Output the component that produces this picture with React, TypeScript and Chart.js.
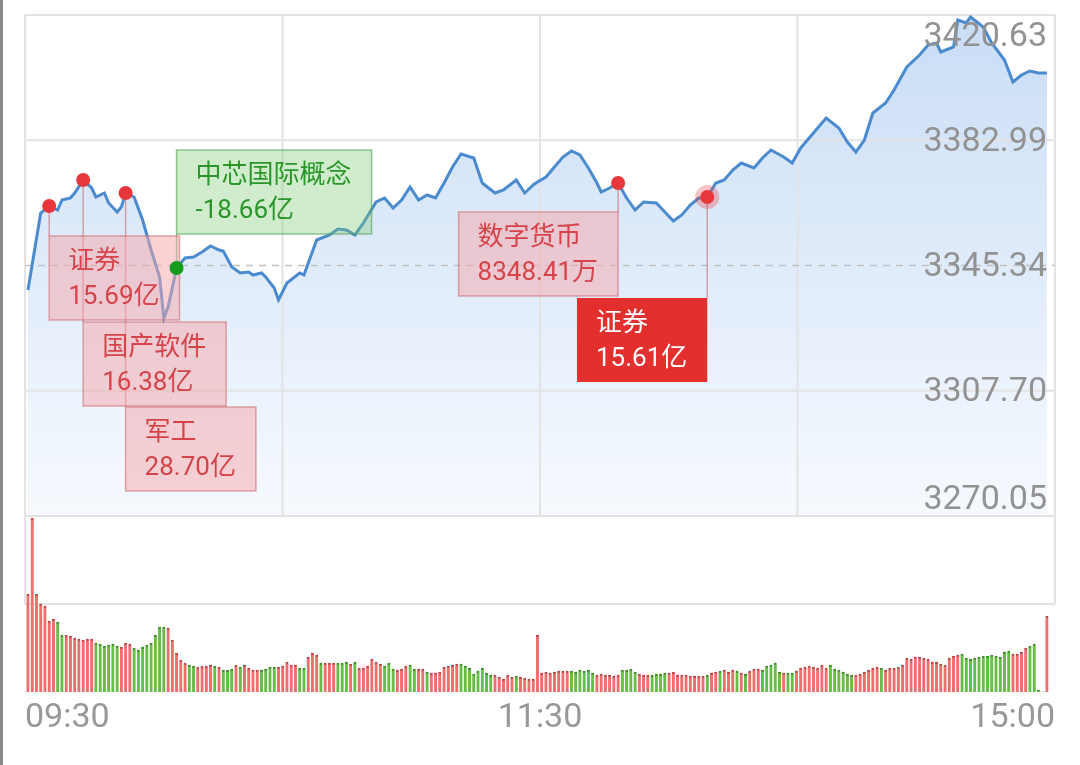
import React, { useEffect, useRef } from 'react';
import { Chart, registerables } from 'chart.js';

Chart.register(...registerables);

// ---------- data ----------
const priceMinutes = [
  0, 3, 5, 7, 8, 10, 11, 13, 15, 16, 18, 19, 21, 22, 23, 25, 27, 29, 31, 32, 33, 35, 37, 39, 41, 43, 45, 46, 48, 50,
  52, 53, 55, 56, 58, 59, 61, 64, 65, 68, 71, 73, 75, 77, 79, 82, 84, 86, 88, 90, 92, 94, 96, 98, 100, 102, 105, 107,
  110, 112, 115, 117, 119, 120, 122, 124, 126, 128, 130, 132, 134, 135, 137, 139, 141, 143, 145, 148, 150, 152, 154,
  156, 158, 160, 162, 164, 166, 168, 171, 173, 175, 178, 180, 182, 185, 188, 191, 193, 195, 197, 199, 202, 204, 207,
  210, 212, 214, 215, 218, 219, 221, 222, 225, 227, 230, 232, 234, 236, 238, 240,
];
const priceValues = [
  3337.98, 3361.12, 3363.22, 3362.02, 3365.03, 3365.63, 3367.13, 3371.04, 3368.63, 3365.93, 3367.13, 3364.12, 3361.42,
  3362.92, 3367.13, 3365.93, 3359.02, 3350.0, 3341.88, 3329.56, 3332.87, 3344.59, 3347.59, 3347.89, 3349.4, 3351.2,
  3350.0, 3349.7, 3344.89, 3343.09, 3343.39, 3342.48, 3343.09, 3341.88, 3338.58, 3334.97, 3340.08, 3343.09, 3342.48,
  3353.0, 3354.51, 3356.31, 3356.01, 3354.51, 3358.11, 3364.43, 3365.63, 3362.62, 3365.03, 3368.93, 3365.03, 3366.53,
  3365.63, 3370.14, 3374.94, 3378.85, 3377.65, 3370.14, 3367.13, 3368.03, 3371.04, 3367.13, 3369.53, 3370.44, 3371.94,
  3374.94, 3377.95, 3379.75, 3378.55, 3374.64, 3370.14, 3367.43, 3368.63, 3370.14, 3365.63, 3362.02, 3364.43, 3364.12,
  3361.42, 3358.71, 3360.52, 3363.52, 3365.63, 3365.93, 3370.14, 3371.04, 3374.04, 3376.15, 3374.64, 3377.65, 3380.05,
  3377.95, 3376.15, 3380.66, 3385.16, 3389.67, 3386.67, 3382.46, 3379.45, 3383.06, 3391.18, 3394.18, 3398.09, 3405.0,
  3408.61, 3411.61, 3412.21, 3409.51, 3411.01, 3419.13, 3418.23, 3420.03, 3417.02, 3412.21, 3407.11, 3400.49, 3402.6,
  3403.8, 3403.2, 3403.2,
];

// one bar per minute, 0..240
const volumeValues = [
  98, 174, 98, 88, 86, 71, 73, 70, 57, 57,
  56, 54, 53, 52, 53, 53, 49, 48, 46, 47,
  48, 46, 45, 49, 48, 44, 42, 45, 47, 49,
  57, 65, 65, 64, 52, 39, 32, 29, 27, 26,
  25, 26, 26, 27, 26, 25, 22, 22, 23, 27,
  25, 27, 24, 22, 22, 22, 23, 25, 25, 25,
  26, 30, 27, 27, 24, 24, 35, 39, 37, 29,
  29, 29, 29, 29, 29, 30, 28, 30, 24, 24,
  26, 33, 30, 28, 26, 29, 23, 22, 23, 26,
  27, 23, 23, 23, 20, 19, 19, 20, 25, 26,
  27, 28, 28, 26, 24, 18, 21, 24, 19, 17,
  17, 15, 13, 17, 15, 16, 15, 14, 13, 13,
  57,
  19, 20, 19, 20, 21, 21, 21,
  21, 20, 22, 21, 22, 19,
  17, 18, 17, 17, 16, 17,
  22, 22, 23, 20,
  18, 17, 17, 17, 18, 18, 19, 19, 20,
  17, 17, 17, 16, 16, 16, 16, 17, 19,
  20, 21, 22, 20, 22, 21, 19, 18,
  21, 23, 23, 22, 26, 27, 29,
  20, 19, 19, 19, 21,
  24, 25, 26, 25, 24, 27, 24,
  27, 23, 22, 20, 18, 17,
  17, 18, 20, 22, 24, 25, 24, 22, 24, 24, 25, 27,
  34, 33, 35, 35, 34, 33,
  30, 30, 28, 27,
  34, 36, 37, 38,
  34, 33, 34, 35, 36,
  36, 37, 36, 35,
  40, 41,
  38, 38, 40,
  44, 46, 48,
  2, 0, 76,
];
// R = up (red), G = down (green)
const volumeDirections = (
  'RRRRRRRGGR' + 'RRRRRRGGGG' + 'GGRRRGGGGG' + 'GGGRRRRRGG' + 'RRRRGRGGGR' +
  'GRRRRGGGGR' + 'RRRRGGRRRG' + 'RRRGGGRGRR' + 'RRRRGGGRRR' + 'GGRRGRRRRR' +
  'RRGGGGGGGG' + 'RRRRRGRRRR' + 'R' +
  'RRRRRRR' + 'GGGGGG' + 'RRRRRR' + 'GGGG' + 'RRRGGGGRR' + 'RRRRRRRGR' +
  'RGRRRGRG' + 'RRRGGGG' + 'GRGGR' + 'RRRRRRR' + 'GGGGGG' + 'RRRRRRGRRRRR' +
  'RRRRRR' + 'RRRR' + 'RRRG' + 'GGGGG' + 'GGGG' + 'GG' + 'RRR' + 'RGG' + 'GGR'
).split('');

const priceTicks = [3420.63, 3382.99, 3345.34, 3307.7, 3270.05];
const priceTickLabels = ['3420.63', '3382.99', '3345.34', '3307.70', '3270.05'];
const prevClose = 3345.34;
const timeLabels = ['09:30', '11:30', '15:00'];

const markerMinutes = [5, 13, 23, 35, 139, 160];
const markerNames = ['证券', '国产软件', '军工', '中芯国际概念', '数字货币', '证券'];
const markerFlows = ['15.69亿', '16.38亿', '28.70亿', '-18.66亿', '8348.41万', '15.61亿'];

// ---------- layout / style ----------
const W = 1080;
const H = 765;
const PRICE_PANEL_PX = 501;
const VOL_PANEL_PX = 176;
const VOL_PANEL_TOP = 176; // volume value at the top of the volume panel
const VOL_AXIS_MAX = (VOL_PANEL_TOP * (PRICE_PANEL_PX + VOL_PANEL_PX)) / VOL_PANEL_PX;
const PRICE_AXIS_MIN =
  priceTicks[4] - ((priceTicks[0] - priceTicks[4]) * VOL_PANEL_PX) / PRICE_PANEL_PX;

const BOXES = [
  { side: 'right', top: 236, style: 'pink' },
  { side: 'right', top: 322, style: 'pink' },
  { side: 'right', top: 407, style: 'pink' },
  { side: 'right', top: 150, style: 'green' },
  { side: 'left', top: 212, style: 'pink' },
  { side: 'left', top: 298, style: 'solid' },
];
const BOX_H = 84;
const FONT_NUM = 'Roboto, "Noto Sans CJK SC", "DejaVu Sans", sans-serif';

const overlayPlugin = {
  id: 'overlay',
  beforeDraw(chart: any) {
    const ctx = chart.ctx;
    ctx.save();
    ctx.fillStyle = '#ffffff';
    ctx.fillRect(0, 0, chart.width, chart.height);
    ctx.restore();
  },
  beforeDatasetsDraw(chart: any) {
    const { ctx, chartArea: a, scales } = chart;
    const yP = scales.yP;
    const yV = scales.yV;
    const priceBottom = yP.getPixelForValue(priceTicks[4]);
    const volMid = yV.getPixelForValue(VOL_PANEL_TOP / 2);
    const line = (x1: number, y1: number, x2: number, y2: number) => {
      ctx.beginPath();
      ctx.moveTo(x1, y1);
      ctx.lineTo(x2, y2);
      ctx.stroke();
    };
    ctx.save();
    ctx.strokeStyle = '#e3e3e3';
    ctx.lineWidth = 2;
    priceTicks.forEach((t) => {
      if (t === prevClose) return;
      const y = yP.getPixelForValue(t);
      line(a.left, y, a.right, y);
    });
    line(a.left, volMid, a.right, volMid);
    for (let k = 0; k <= 4; k++) {
      const x = a.left + (k * (a.right - a.left)) / 4;
      const yEnd = k === 0 || k === 4 ? volMid : priceBottom;
      line(x, a.top, x, yEnd);
    }
    ctx.setLineDash([7, 6]);
    ctx.strokeStyle = '#c2c2c2';
    ctx.lineWidth = 1.5;
    const yc = yP.getPixelForValue(prevClose);
    line(a.left, yc, a.right, yc);
    ctx.restore();
  },
  afterDatasetsDraw(chart: any) {
    const { ctx, scales } = chart;
    const xS = scales.x;
    const yP = scales.yP;
    ctx.save();
    ctx.font = `26px ${FONT_NUM}`;
    const items = markerMinutes.map((m, i) => {
      const idx = priceMinutes.indexOf(m);
      const px = xS.getPixelForValue(m);
      const py = yP.getPixelForValue(priceValues[idx]);
      const L = BOXES[i];
      const w = Math.max(ctx.measureText(markerNames[i]).width, ctx.measureText(markerFlows[i]).width) + 39;
      const bx = L.side === 'right' ? px : px - w;
      return { px, py, bx, by: L.top, w, style: L.style, i };
    });
    // connectors
    items.forEach((it) => {
      ctx.strokeStyle = it.style === 'green' ? 'rgba(70,150,70,0.6)' : 'rgba(205,95,100,0.55)';
      ctx.lineWidth = 1.5;
      const yEnd = it.by > it.py ? it.by : it.by + BOX_H;
      ctx.beginPath();
      ctx.moveTo(it.px, it.py);
      ctx.lineTo(it.px, yEnd);
      ctx.stroke();
    });
    // boxes
    items.forEach((it) => {
      if (it.style === 'solid') {
        ctx.fillStyle = '#e3302f';
        ctx.fillRect(it.bx, it.by, it.w, BOX_H);
      } else if (it.style === 'green') {
        ctx.fillStyle = 'rgba(120,200,110,0.35)';
        ctx.fillRect(it.bx, it.by, it.w, BOX_H);
        ctx.strokeStyle = 'rgba(80,160,80,0.6)';
        ctx.lineWidth = 1.5;
        ctx.strokeRect(it.bx, it.by, it.w, BOX_H);
      } else {
        ctx.fillStyle = 'rgba(245,165,170,0.5)';
        ctx.fillRect(it.bx, it.by, it.w, BOX_H);
        ctx.strokeStyle = 'rgba(205,100,105,0.55)';
        ctx.lineWidth = 1.5;
        ctx.strokeRect(it.bx, it.by, it.w, BOX_H);
      }
      ctx.fillStyle = it.style === 'solid' ? '#ffffff' : it.style === 'green' ? '#2a962a' : '#d6434a';
      ctx.textAlign = 'left';
      ctx.textBaseline = 'middle';
      ctx.fillText(markerNames[it.i], it.bx + 19, it.by + 26);
      ctx.fillText(markerFlows[it.i], it.bx + 19, it.by + 61);
    });
    // dots
    items.forEach((it) => {
      if (it.style === 'solid') {
        ctx.fillStyle = 'rgba(232,55,58,0.3)';
        ctx.beginPath();
        ctx.arc(it.px, it.py, 12, 0, Math.PI * 2);
        ctx.fill();
      }
      ctx.fillStyle = it.style === 'green' ? '#169c1c' : '#e8373a';
      ctx.beginPath();
      ctx.arc(it.px, it.py, 7, 0, Math.PI * 2);
      ctx.fill();
    });
    ctx.restore();
  },
  afterDraw(chart: any) {
    const { ctx, chartArea: a, scales } = chart;
    const yP = scales.yP;
    ctx.save();
    ctx.font = `34px ${FONT_NUM}`;
    ctx.fillStyle = '#929292';
    ctx.textAlign = 'right';
    ctx.textBaseline = 'middle';
    priceTicks.forEach((t, i) => {
      const y = yP.getPixelForValue(t);
      const dy = i === 0 ? 22 : i === priceTicks.length - 1 ? -16 : 2;
      ctx.fillText(priceTickLabels[i], a.right - 8, y + dy);
    });
    ctx.fillStyle = '#989898';
    const ty = a.bottom + 26;
    ctx.textAlign = 'left';
    ctx.fillText(timeLabels[0], a.left, ty);
    ctx.textAlign = 'center';
    ctx.fillText(timeLabels[1], (a.left + a.right) / 2, ty);
    ctx.textAlign = 'right';
    ctx.fillText(timeLabels[2], a.right, ty);
    ctx.fillStyle = '#8a8a8a';
    ctx.fillRect(0, 0, 3, chart.height);
    ctx.restore();
  },
};

export default function App() {
  const ref = useRef<HTMLCanvasElement>(null);
  useEffect(() => {
    const canvas = ref.current;
    if (!canvas) return;
    const chart = new Chart(canvas, {
      type: 'line',
      data: {
        datasets: [
          {
            type: 'line',
            data: priceMinutes.map((m, i) => ({ x: m, y: priceValues[i] })),
            xAxisID: 'x',
            yAxisID: 'yP',
            borderColor: '#4a8bd0',
            borderWidth: 3,
            pointRadius: 0,
            tension: 0,
            fill: { value: priceTicks[4] },
            backgroundColor: (c: any) => {
              const ch = c.chart;
              const area = ch.chartArea;
              if (!area) return 'rgba(0,0,0,0)';
              const yb = ch.scales.yP.getPixelForValue(priceTicks[4]);
              const g = ch.ctx.createLinearGradient(0, area.top, 0, yb);
              g.addColorStop(0, 'rgba(198,219,245,0.95)');
              g.addColorStop(1, 'rgba(245,249,254,0.9)');
              return g;
            },
            order: 1,
          } as any,
          {
            type: 'bar',
            data: volumeValues.map((v, i) => ({ x: i, y: v })),
            xAxisID: 'x',
            yAxisID: 'yV',
            backgroundColor: volumeDirections.map((d) => (d === 'R' ? '#f06e6e' : '#68bd48')),
            borderColor: volumeDirections.map((d) => (d === 'R' ? '#b54848' : '#3f8a2c')),
            borderWidth: { top: 2, left: 0, right: 0, bottom: 0 },
            borderSkipped: 'start',
            barThickness: 3,
            order: 2,
          } as any,
        ],
      },
      options: {
        responsive: false,
        animation: false,
        events: [],
        layout: { padding: { left: 25, right: 25, top: 15, bottom: 73 } },
        scales: {
          x: {
            type: 'linear',
            min: -0.7,
            max: 241.9,
            display: false,
            offset: false,
            grid: { display: false, offset: false },
          },
          yP: { type: 'linear', min: PRICE_AXIS_MIN, max: priceTicks[0], display: false },
          yV: { type: 'linear', min: 0, max: VOL_AXIS_MAX, display: false },
        },
        plugins: {
          legend: { display: false },
          tooltip: { enabled: false },
          filler: { propagate: false, drawTime: 'beforeDatasetsDraw' },
        } as any,
      },
      plugins: [overlayPlugin],
    } as any);
    const fonts: any = (document as any).fonts;
    if (fonts && fonts.load) {
      Promise.all([fonts.load(`34px Roboto`), fonts.load(`26px "Noto Sans CJK SC"`)])
        .then(() => {
          if ((chart as any).ctx) chart.draw();
        })
        .catch(() => {});
    }
    return () => chart.destroy();
  }, []);
  return (
    <div style={{ position: 'absolute', left: 0, top: 0, width: W, height: H, background: '#fff' }}>
      <canvas ref={ref} width={W} height={H} style={{ display: 'block', width: W, height: H }} />
    </div>
  );
}
